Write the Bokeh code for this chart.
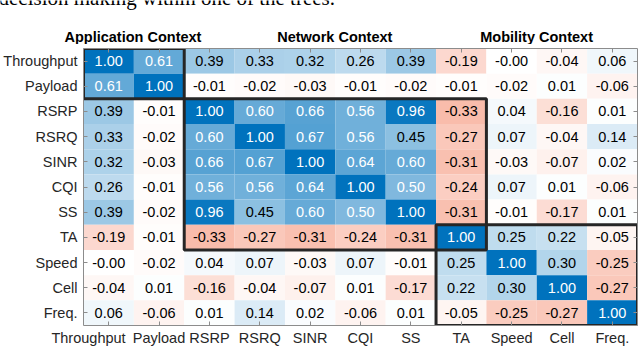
from bokeh.plotting import figure
from bokeh.layouts import column
from bokeh.models import ColumnDataSource, Range1d, LinearAxis, FixedTicker
from bokeh.core.properties import value
from bokeh.embed import file_html
from bokeh.resources import INLINE

labels = ["Throughput", "Payload", "RSRP", "RSRQ", "SINR", "CQI", "SS", "TA", "Speed", "Cell", "Freq."]

throughput = [1.00, 0.61, 0.39, 0.33, 0.32, 0.26, 0.39, -0.19, -0.00, -0.04, 0.06]
payload = [0.61, 1.00, -0.01, -0.02, -0.03, -0.01, -0.02, -0.01, -0.02, 0.01, -0.06]
rsrp = [0.39, -0.01, 1.00, 0.60, 0.66, 0.56, 0.96, -0.33, 0.04, -0.16, 0.01]
rsrq = [0.33, -0.02, 0.60, 1.00, 0.67, 0.56, 0.45, -0.27, 0.07, -0.04, 0.14]
sinr = [0.32, -0.03, 0.66, 0.67, 1.00, 0.64, 0.60, -0.31, -0.03, -0.07, 0.02]
cqi = [0.26, -0.01, 0.56, 0.56, 0.64, 1.00, 0.50, -0.24, 0.07, 0.01, -0.06]
ss = [0.39, -0.02, 0.96, 0.45, 0.60, 0.50, 1.00, -0.31, -0.01, -0.17, 0.01]
ta = [-0.19, -0.01, -0.33, -0.27, -0.31, -0.24, -0.31, 1.00, 0.25, 0.22, -0.05]
speed = [-0.00, -0.02, 0.04, 0.07, -0.03, 0.07, -0.01, 0.25, 1.00, 0.30, -0.25]
cell = [-0.04, 0.01, -0.16, -0.04, -0.07, 0.01, -0.17, 0.22, 0.30, 1.00, -0.27]
freq = [0.06, -0.06, 0.01, 0.14, 0.02, -0.06, 0.01, -0.05, -0.25, -0.27, 1.00]

matrix = [throughput, payload, rsrp, rsrq, sinr, cqi, ss, ta, speed, cell, freq]

# (title, first index, last index + 1)
groups = [("Application Context", 0, 2), ("Network Context", 2, 8), ("Mobility Context", 7, 11)]
caption = "decision making within one of the trees."

POS = (0, 114, 189)
NEG = (237, 52, 0)


def color(v):
    c = POS if v >= 0 else NEG
    t = min(abs(v), 1.0)
    r, g, b = (round(255 - t * (255 - k)) for k in c)
    return f"#{r:02x}{g:02x}{b:02x}"


n = len(labels)
xs, ys, cols, txt, tcol = [], [], [], [], []
for ri, row in enumerate(matrix):
    for ci, v in enumerate(row):
        xs.append(ci + 0.5)
        ys.append(n - ri - 0.5)
        cols.append(color(v))
        txt.append(f"{v:.2f}")
        tcol.append("white" if v >= 0.5 else "black")

src = ColumnDataSource(dict(x=xs, y=ys, c=cols, t=txt, tc=tcol))

W = 640
BL, BR = 82, 3
HEAD_H = 44

p = figure(width=W, height=304, x_range=Range1d(0, n), y_range=Range1d(0, n),
           output_backend="svg", toolbar_location=None, title=None,
           x_axis_type=None, y_axis_type=None,
           min_border_left=BL, min_border_right=BR, min_border_top=4, min_border_bottom=22)

p.rect(x="x", y="y", width=1, height=1, source=src, fill_color="c", line_color=None)
p.text(x="x", y="y", text="t", source=src, text_color="tc", text_align="center",
       text_baseline="middle", text_font=value("Liberation Sans"), text_font_size="14.5px")

# block outlines
p.quad(left=[g[1] for g in groups], right=[g[2] for g in groups],
       top=[n - g[1] for g in groups], bottom=[n - g[2] for g in groups],
       fill_color=None, line_color="#262626", line_width=3)

centers = [i + 0.5 for i in range(n)]
x_labels = {i + 0.5: lab for i, lab in enumerate(labels)}
x_labels[0.5] = labels[0] + "\u00a0" * 10
y_labels = {n - i - 0.5: lab for i, lab in enumerate(labels)}

axes = {
    "below": LinearAxis(ticker=FixedTicker(ticks=centers), major_label_overrides=x_labels),
    "left": LinearAxis(ticker=FixedTicker(ticks=centers), major_label_overrides=y_labels),
    "above": LinearAxis(ticker=FixedTicker(ticks=centers)),
    "right": LinearAxis(ticker=FixedTicker(ticks=centers)),
}
for side, ax in axes.items():
    ax.major_tick_in = 4
    ax.major_tick_out = 0
    ax.minor_tick_line_color = None
    ax.axis_line_color = "#8c8c8c"
    ax.major_tick_line_color = "#8c8c8c"
    ax.major_label_text_font = "Liberation Sans"
    ax.major_label_text_font_size = "14.5px"
    ax.major_label_text_color = "#262626"
    if side in ("above", "right"):
        ax.major_label_text_font_size = "1px"
        ax.major_label_text_color = None
        ax.major_label_standoff = 0
    p.add_layout(ax, side)

axes["below"].major_label_standoff = 4
axes["left"].major_label_standoff = 6

p.grid.visible = False
p.outline_line_color = None

# header strip aligned with the heatmap columns
px = (W - BL - BR) / n
h = figure(width=W, height=HEAD_H, x_range=Range1d(-BL / px, n + BR / px), y_range=Range1d(0, HEAD_H),
           output_backend="svg", toolbar_location=None, title=None,
           x_axis_type=None, y_axis_type=None, min_border=0)
h.grid.visible = False
h.outline_line_color = None
aligned = "frame_align" not in h.properties()
if not aligned:
    h.frame_align = False
    p.frame_align = False
else:
    h.x_range = Range1d(0, n)

h.text(x=[(a + b) / 2 for _, a, b in groups], y=[7.8] * len(groups), text=[g[0] for g in groups],
       text_align="center", text_baseline="middle", text_font=value("Liberation Sans"),
       text_font_style="bold", text_font_size="14.5px", text_color="black")
h.text(x=[-BL / px - 2 / px], y=[43.5], y_offset=-2.6, text=[caption], text_align="left",
       text_baseline="middle", text_font=value("Liberation Serif"), text_font_size="21px",
       text_color="black")

layout = column(h, p, spacing=0)
open("out.html", "w").write(file_html(layout, INLINE))
